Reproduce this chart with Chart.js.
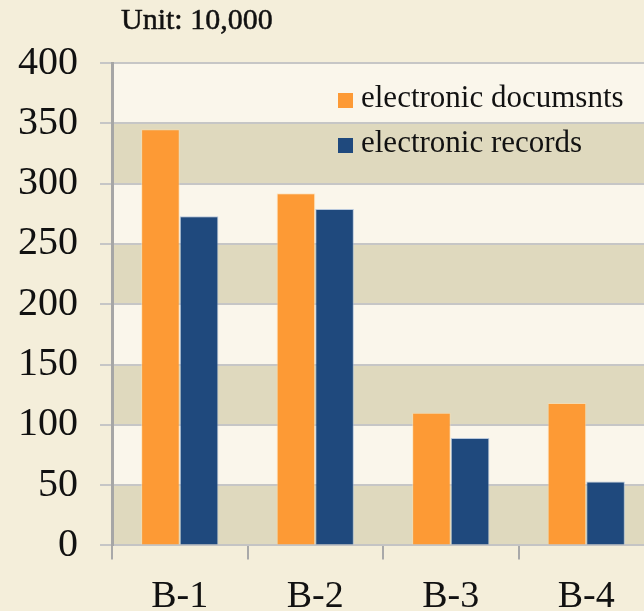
<!DOCTYPE html>
<html>
<head>
<meta charset="utf-8">
<script src="https://cdn.jsdelivr.net/npm/chart.js@4.4.1/dist/chart.umd.min.js"></script>
<style>
  html, body { margin:0; padding:0; width:644px; height:611px; overflow:hidden; background:#F4EEDA; }
  #wrap { position:absolute; left:0; top:0; width:664px; height:635px; }
  #unit { position:absolute; left:121px; top:2px; font-family:"Liberation Serif", serif; font-size:30px; color:#111; white-space:nowrap; -webkit-text-stroke:0.5px #111; }
  #legend { position:absolute; left:338px; top:84px; font-family:"Liberation Serif", serif; font-size:31px; color:#111; }
  .item { position:relative; height:45px; white-space:nowrap; }
  .sw { position:absolute; left:0; top:9px; width:15px; height:15px; }
  .lbl { position:absolute; left:23px; top:-5px; line-height:36px; }
</style>
</head>
<body>
<div id="wrap"><canvas id="c"></canvas></div>
<div id="unit">Unit: 10,000</div>
<div id="legend"></div>
<script>
const categories = ["B-1", "B-2", "B-3", "B-4"];
const seriesNames = ["electronic documsnts", "electronic records"];
const documentsValues = [345, 292, 110, 118];
const recordsValues = [273, 279, 89, 53];
const yTicks = [0, 50, 100, 150, 200, 250, 300, 350, 400];
const colors = ["#FD9A35", "#1F497D"];

const bandPlugin = {
  id: 'bands',
  beforeDraw(chart) {
    const {ctx, chartArea:a, scales:{y}} = chart;
    ctx.save();
    ctx.fillStyle = '#FAF6EB';
    ctx.fillRect(a.left, a.top, a.right - a.left, a.bottom - a.top);
    ctx.fillStyle = '#DFD9BE';
    for (let i = 0; i + 1 < yTicks.length; i += 2) {
      const y0 = y.getPixelForValue(yTicks[i]);
      const y1 = y.getPixelForValue(yTicks[i+1]);
      ctx.fillRect(a.left, y1, a.right - a.left, y0 - y1);
    }
    ctx.restore();
  }
};

new Chart(document.getElementById('c'), {
  type: 'bar',
  data: {
    labels: categories,
    datasets: [
      { label: seriesNames[0], data: documentsValues, backgroundColor: colors[0], borderColor: 'rgba(255,220,170,0.6)', borderWidth: 1 },
      { label: seriesNames[1], data: recordsValues, backgroundColor: colors[1], borderColor: 'rgba(140,170,210,0.6)', borderWidth: 1 }
    ]
  },
  options: {
    responsive: true,
    maintainAspectRatio: false,
    animation: false,
    events: [],
    layout: { padding: { left: 18, top: 63, right: 10, bottom: 0 } },
    plugins: { legend: { display: false }, tooltip: { enabled: false } },
    datasets: { bar: { categoryPercentage: 0.57, barPercentage: 1.0 } },
    scales: {
      x: {
        grid: { offset: true, drawOnChartArea: false, drawTicks: true, tickLength: 14, color: '#A9A9A9', lineWidth: 2 },
        border: { display: true, color: '#C4C4C4', width: 2 },
        ticks: { font: { family: 'Liberation Serif', size: 38 }, color: '#111', padding: 15 }
      },
      y: {
        min: 0, max: 400,
        afterBuildTicks(scale) { scale.ticks = yTicks.map(v => ({ value: v })); },
        afterFit(scale) { scale.width = 94; },
        grid: { color: '#C6C6C6', lineWidth: 2, tickLength: 12, drawTicks: true },
        border: { display: true, color: '#A6A6A6', width: 3 },
        ticks: { font: { family: 'Liberation Serif', size: 40 }, color: '#111', padding: 22 }
      }
    }
  },
  plugins: [bandPlugin]
});

const leg = document.getElementById('legend');
seriesNames.forEach((n, i) => {
  const d = document.createElement('div');
  d.className = 'item';
  d.innerHTML = '<span class="sw" style="background:' + colors[i] + '"></span><span class="lbl"></span>';
  d.querySelector('.lbl').textContent = n;
  leg.appendChild(d);
});
</script>
</body>
</html>
